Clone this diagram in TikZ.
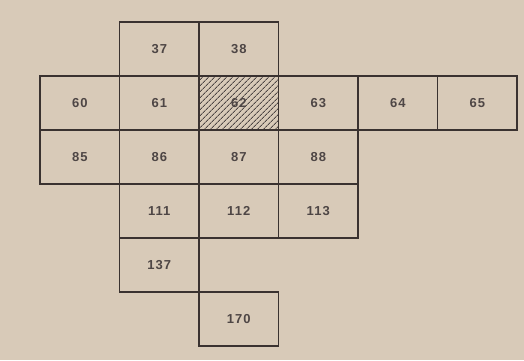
\documentclass[tikz,border=0pt]{standalone}
\usepackage{fontspec}
\setmainfont{Liberation Sans}
\usetikzlibrary{patterns.meta}
\definecolor{paper}{RGB}{216,202,184}
\definecolor{ink}{RGB}{58,50,48}
\tikzset{
    sheet/.style={draw=ink, line width=1.2pt, minimum width=79.5pt, minimum height=54pt,
        inner sep=0pt, text=ink!90, font=\bfseries\fontsize{13}{15}\selectfont},
    marked/.style={pattern={Lines[angle=45,distance=4pt,line width=0.9pt]}, pattern color=ink!90}
}
\begin{document}
\begin{tikzpicture}[x=1pt,y=-1pt]
% paper
    \fill[paper] (0,0) rectangle (524,360);
% sheets
    \foreach \c/\r/\v in {1/0/37,2/0/38,0/1/60,1/1/61,3/1/63,4/1/64,5/1/65,
                          0/2/85,1/2/86,2/2/87,3/2/88,1/3/111,2/3/112,3/3/113,
                          1/4/137,2/5/170}{
        \node[sheet] (s\v) at (79.75+79.5*\c, 49+54*\r) {\addfontfeature{LetterSpace=8}\v};
    }
% marked sheet
    \node[sheet, marked] (s62) at (79.75+79.5*2, 49+54) {\addfontfeature{LetterSpace=8}62};
\end{tikzpicture}
\end{document}
